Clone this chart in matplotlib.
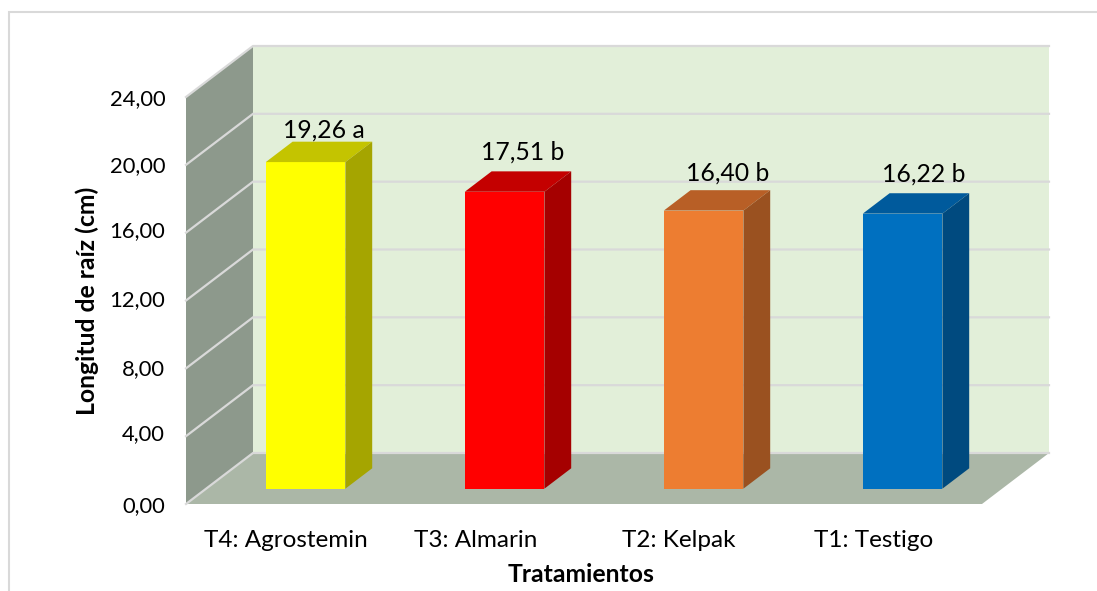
import matplotlib
matplotlib.use("Agg")
import matplotlib.pyplot as plt
from matplotlib.patches import Polygon, Rectangle
from matplotlib.transforms import ScaledTranslation

categories = ["T4: Agrostemin", "T3: Almarin", "T2: Kelpak", "T1: Testigo"]
values = [19.26, 17.51, 16.40, 16.22]
letters = ["a", "b", "b", "b"]
front_colors = ["#FFFF00", "#FF0000", "#ED7D31", "#0070C0"]
top_colors = ["#C4C400", "#C40000", "#B85F26", "#005A9C"]
side_colors = ["#A5A500", "#A50000", "#9A5120", "#004A7F"]
y_ticks = [0, 4, 8, 12, 16, 20, 24]
y_tick_labels = ["0,00", "4,00", "8,00", "12,00", "16,00", "20,00", "24,00"]
y_title = "Longitud de raíz (cm)"
x_title = "Tratamientos"

W, H = 1097, 591
plt.rcParams["font.family"] = "Lato"
fig = plt.figure(figsize=(W / 100, H / 100), dpi=100, facecolor="white")

# frame of the chart area (only left and top edges fall inside the picture)
bg = fig.add_axes([0, 0, 1, 1])
bg.set_xlim(0, W)
bg.set_ylim(H, 0)
bg.axis("off")
bg.add_patch(Rectangle((9, 12), 1300, 800, fc="white", ec="#D9D9D9", lw=1.5))

# plot axes = front plane of the 3-D box
L, R, B, T = 186, 982, 504, 97
ax = fig.add_axes([L / W, 1 - B / H, (R - L) / W, (B - T) / H])
ax.set_xlim(0, len(categories))
ax.set_ylim(0, 24)
ax.patch.set_visible(False)
for s in ax.spines.values():
    s.set_visible(False)

DX = 67 / ((R - L) / 4)
DY = 51 / ((B - T) / 24)


def proj(x, y, d):
    return (x + DX * d, y + DY * d)


def face(points, **kw):
    ax.add_patch(Polygon([proj(*p) for p in points], closed=True, clip_on=False, **kw))


n = len(categories)
# back wall, side wall, floor
face([(0, 0, 1), (n, 0, 1), (n, 24, 1), (0, 24, 1)], fc="#E2EFD9", ec="none", zorder=1)
face([(0, 0, 0), (0, 0, 1), (0, 24, 1), (0, 24, 0)], fc="#8D998C", ec="none", zorder=1)
face([(0, 0, 0), (n, 0, 0), (n, 0, 1), (0, 0, 1)], fc="#ABB7A7", ec="none", zorder=2)

# gridlines on side wall and back wall
for t in y_ticks:
    a = proj(0, t, 0)
    b = proj(0, t, 1)
    c = proj(n, t, 1)
    ax.plot([a[0], b[0], c[0]], [a[1], b[1], c[1]], color="#D9D9D9", lw=1.6,
            clip_on=False, zorder=3, solid_joinstyle="miter")

# bars
BW = 0.4
D0, D1 = 0.3, 0.7
label_offsets = [(-9, 4), (-8.5, 12), (-2.5, 10), (-5.5, 12)]
for i, v in enumerate(values):
    x0 = i + 0.5 - BW / 2
    x1 = i + 0.5 + BW / 2
    z = 5 + i
    face([(x0, 0, D0), (x1, 0, D0), (x1, v, D0), (x0, v, D0)], fc=front_colors[i], ec="none", zorder=z)
    face([(x0, v, D0), (x1, v, D0), (x1, v, D1), (x0, v, D1)], fc=top_colors[i], ec="none", zorder=z)
    face([(x1, 0, D0), (x1, 0, D1), (x1, v, D1), (x1, v, D0)], fc=side_colors[i], ec="none", zorder=z)
    px, py = proj(i + 0.5, v, D1)
    ax.annotate(f"{v:.2f}".replace(".", ",") + " " + letters[i], (px, py),
                xytext=label_offsets[i], textcoords="offset pixels", ha="center", va="baseline",
                fontsize=17.8, color="black", zorder=20, annotation_clip=False)

# axes ticks and titles
ax.set_yticks(y_ticks)
ax.set_yticklabels(y_tick_labels, fontsize=15.8, color="black")
ax.tick_params(axis="y", length=0, pad=15)
ax.set_xticks([i + 0.5 for i in range(n)])
ax.set_xticklabels(categories, fontsize=17.5, color="black")
ax.tick_params(axis="x", length=0, pad=19)

# hand-placed label nudges of the original, in pixels
xtick_nudges = [0, -9, -5, -9]
ytick_nudges = [0, 4, 1, 2, 4, 1, 0]
for lab, dx in zip(ax.get_xticklabels(), xtick_nudges):
    lab.set_transform(lab.get_transform() + ScaledTranslation(dx / 100, 0, fig.dpi_scale_trans))
for lab, dy in zip(ax.get_yticklabels(), ytick_nudges):
    lab.set_transform(lab.get_transform() + ScaledTranslation(0, dy / 100, fig.dpi_scale_trans))

ax.set_xlabel(x_title, fontsize=17.8, fontweight="bold", va="center", ha="center")
ax.xaxis.set_label_coords(581, 574, transform=bg.transData)
ax.set_ylabel(y_title, fontsize=17.8, fontweight="bold", va="center", ha="center")
ax.yaxis.set_label_coords(87, 301, transform=bg.transData)

fig.savefig("out.png", dpi=100, facecolor="white")
